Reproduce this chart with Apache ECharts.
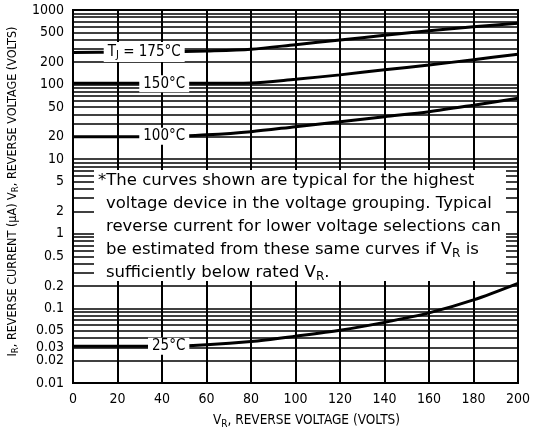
<!DOCTYPE html>
<html>
<head>
<meta charset="utf-8">
<script src="https://cdn.jsdelivr.net/npm/echarts@6/dist/echarts.min.js"></script>
<style>
html,body{margin:0;padding:0;background:#fff;}
#chart{width:533px;height:433px;}
</style>
</head>
<body>
<div id="chart"></div>
<script>
// reverse voltage (V)
const vr = [0, 20, 40, 60, 80, 100, 120, 140, 160, 180, 200];
// reverse current (uA) per junction temperature
const ir175 = [270, 271, 273, 282, 298, 343, 396, 458, 526, 595, 664];
const ir150 = [104, 104, 104, 104, 105, 118, 135, 158, 183, 216, 255];
const ir100 = [20, 20, 20, 21.2, 23.4, 27.3, 31.8, 37.2, 43.4, 53, 65.5];
const ir25 = [0.031, 0.031, 0.031, 0.0325, 0.036, 0.0425, 0.051, 0.065, 0.087, 0.13, 0.217];
// y tick labels
const yTicks = [1000, 500, 200, 100, 50, 20, 10, 5, 2, 1, 0.5, 0.2, 0.1, 0.05, 0.03, 0.02, 0.01];
// log grid: 1..9 per decade
const gridMults = [1, 2, 3, 4, 5, 6, 7, 8, 9];
const gridDecades = [0.01, 0.1, 1, 10, 100];
// curve label anchors [V, uA]
const curveLabelPos = [[32, 274], [41, 103], [41, 20.3], [43, 0.0312]];

const NARROW = '"Liberation Sans Narrow", "DejaVu Sans Condensed", sans-serif';
const chart = echarts.init(document.getElementById('chart'));

const gridValues = [];
gridDecades.forEach(d => gridMults.forEach(m => gridValues.push(+(d * m).toPrecision(3))));
gridValues.push(1000);

const gridLines = gridValues.map(v => {
  const t = yTicks.find(k => Math.abs(k - v) / k < 1e-6);
  return {
    yAxis: v,
    lineStyle: { width: (v === 0.01 || v === 1000) ? 0 : 1.6 },
    label: { show: t !== undefined, formatter: t === undefined ? '' : String(t) }
  };
});

const subRich = {
  n: { fontFamily: NARROW, fontSize: 13.5, color: '#000' },
  s: { fontFamily: NARROW, fontSize: 10, color: '#000', padding: [7, 0, 0, 0] }
};
const subRichY = {
  n: { fontFamily: NARROW, fontSize: 12.5, color: '#000' },
  s: { fontFamily: NARROW, fontSize: 9.5, color: '#000', padding: [6, 0, 0, 0] }
};

function curve(data, label, pos) {
  return {
    type: 'line',
    z: 3,
    data: vr.map((v, i) => [v, data[i]]),
    smooth: 0.3,
    symbol: 'none',
    lineStyle: { color: '#000', width: 3 },
    silent: true,
    markPoint: {
      z: 10,
      symbol: 'rect',
      symbolSize: 0,
      silent: true,
      data: [{ coord: pos }],
      label: {
        show: true,
        position: 'inside',
        formatter: label,
        backgroundColor: '#fff',
        padding: [1, 4, 1, 4],
        color: '#000',
        fontFamily: NARROW,
        fontSize: 15,
        rich: {
          n: { fontFamily: NARROW, fontSize: 15, color: '#000' },
          s: { fontFamily: NARROW, fontSize: 11, color: '#000', padding: [7, 0, 0, 0] }
        }
      }
    }
  };
}

const boxFont = '"DejaVu Sans", sans-serif';
const boxRich = {
  n: { fontFamily: boxFont, fontSize: 16.5, color: '#000' },
  s: { fontFamily: boxFont, fontSize: 12, color: '#000', padding: [8, 0, 0, 0] }
};
const noteLines = [
  '{n|*The curves shown are typical for the highest}',
  '{n|voltage device in the voltage grouping. Typical}',
  '{n|reverse current for lower voltage selections can}',
  '{n|be estimated from these same curves if V}{s|R}{n| is}',
  '{n|sufficiently below rated V}{s|R}{n|.}'
];

chart.setOption({
  animation: false,
  grid: {
    left: 73, right: 15, top: 10, bottom: 50,
    outerBoundsMode: 'none',
    show: true, borderColor: '#000', borderWidth: 2, backgroundColor: '#fff'
  },
  xAxis: {
    type: 'value',
    min: 0, max: 200, interval: 20,
    axisLine: { lineStyle: { color: '#000', width: 2 } },
    axisTick: { show: false },
    splitLine: { show: true, lineStyle: { color: '#000', width: 2 } },
    axisLabel: { color: '#000', fontFamily: NARROW, fontSize: 14, margin: 9 },
    name: '{n|V}{s|R}{n|, REVERSE VOLTAGE (VOLTS)}',
    nameLocation: 'middle',
    nameGap: 29,
    nameTextStyle: { rich: subRich, padding: [0, 0, 0, 22] }
  },
  yAxis: {
    type: 'log',
    logBase: 10,
    min: 0.01, max: 1000,
    axisLine: { show: false },
    axisTick: { show: false },
    splitLine: { show: false },
    axisLabel: { show: false },
    name: '{n|I}{s|R}{n|, REVERSE CURRENT (μA) V}{s|R}{n|, REVERSE VOLTAGE (VOLTS)}',
    nameLocation: 'middle',
    nameRotate: 90,
    nameGap: 52,
    nameTextStyle: { rich: subRichY, padding: [0, 0, 0, 10] }
  },
  series: [
    {
      type: 'line',
      z: 1,
      data: [],
      silent: true,
      markLine: {
        z: 1,
        silent: true,
        symbol: ['none', 'none'],
        animation: false,
        lineStyle: { color: '#000', type: 'solid', width: 1.6 },
        label: {
          position: 'start',
          distance: 9,
          color: '#000',
          fontFamily: NARROW,
          fontSize: 14,
          padding: [5, 0, 0, 0]
        },
        data: gridLines
      }
    },
    curve(ir175, '{n|T}{s|J}{n| = 175°C}', curveLabelPos[0]),
    curve(ir150, '150°C', curveLabelPos[1]),
    curve(ir100, '100°C', curveLabelPos[2]),
    curve(ir25, '25°C', curveLabelPos[3])
  ],
  graphic: [
    {
      type: 'rect',
      z: 100,
      shape: { x: 94, y: 170, width: 412, height: 111 },
      style: { fill: '#fff' }
    }
  ].concat(noteLines.map((t, i) => ({
    type: 'text',
    z: 101,
    x: i === 0 ? 98 : 106,
    y: 181 + i * 23,
    style: { text: t, rich: boxRich, verticalAlign: 'middle' }
  })))
});
</script>
</body>
</html>
